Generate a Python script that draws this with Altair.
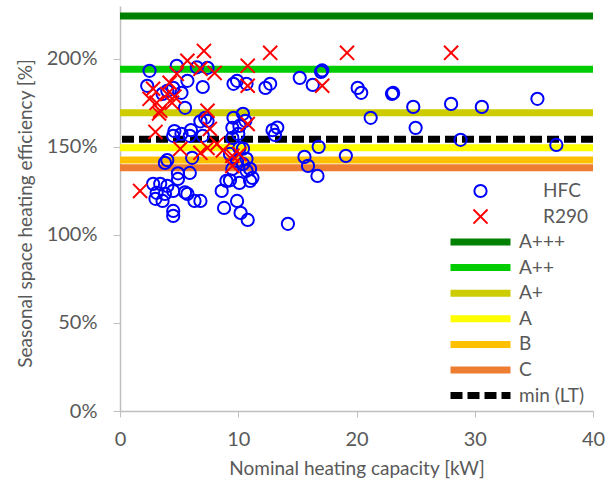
import altair as alt
import pandas as pd

# Heat pump models: nominal heating capacity [kW] and seasonal space heating efficiency [%]
hfc_kw = [2.5, 4.8, 6.5, 7.4, 2.3, 4.0, 4.5, 3.6, 5.2, 5.7, 5.5, 7.0, 7.2, 6.8,
          9.6, 9.9, 10.7, 12.3, 12.7, 15.2, 16.3, 17.0, 17.1, 20.1, 20.4, 23.0,
          23.1, 24.8, 28.0, 30.6, 35.3, 21.2, 25.0, 28.8, 36.9, 16.8, 19.1, 15.6,
          15.9, 16.7, 14.2, 12.9, 13.3, 13.1,
          9.6, 10.4, 10.6, 9.5, 10.1, 7.4, 4.6, 5.2, 5.9, 6.0, 4.5,
          3.8, 4.0, 6.1, 5.9, 4.9, 3.4, 3.1, 4.0, 3.8, 3.6, 4.5, 3.0, 5.7, 5.5,
          6.3, 4.5, 4.5, 2.8, 4.9, 7.0, 9.5, 10.0, 10.1, 10.4, 10.7, 9.9, 9.3,
          10.4, 9.5, 11.0, 10.7, 11.2, 11.0, 10.1, 9.0, 9.3, 8.6, 8.8, 9.9,
          10.2, 10.8, 6.8]
hfc_eff = [193.2, 196.0, 195.2, 194.9, 184.7, 181.8, 183.5, 180.1, 180.7, 187.5,
           172.2, 184.0, 166.5, 164.5,
           185.8, 187.5, 185.8, 183.5, 185.8, 189.2, 185.2, 192.6, 193.4, 183.5,
           180.7, 180.1, 180.6, 172.7, 174.4, 172.7, 177.3, 166.5, 160.8, 154.0,
           151.1, 150.0, 144.9, 144.3, 139.2, 133.5, 106.3, 159.5, 161.0, 156.8,
           166.5, 168.8, 164.8, 160.8, 161.9, 164.8, 159.0, 157.4, 156.3, 159.5,
           156.3,
           140.9, 142.5, 143.8, 135.2, 131.8, 129.0, 123.9, 127.8, 123.3, 119.3,
           125.0, 120.5, 123.3, 124.2, 119.3, 113.6, 110.8, 129.0, 135.0, 156.3,
           155.1, 157.4, 149.4, 149.0, 143.2, 142.0, 146.0, 140.3, 137.5, 137.5,
           136.4, 132.4, 130.7, 129.5, 130.7, 131.0, 125.0, 115.3, 119.3, 112.5,
           108.5, 119.3]

r290_kw = [7.1, 5.7, 6.8, 4.8, 4.2, 2.8, 2.5, 3.1, 3.4, 4.4, 4.0, 3.0, 12.7,
           10.8, 10.8, 8.0, 7.4, 10.8, 7.6, 19.2, 28.0, 17.1, 5.1, 6.8, 1.7,
           7.4, 8.2, 8.7, 9.5, 10.1, 9.5, 3.3, 4.6]
r290_eff = [204.5, 198.9, 194.3, 191.5, 186.4, 183.0, 177.3, 175.0, 170.5, 175.0,
            180.0, 158.5, 203.4, 196.0, 184.7, 192.0, 170.5, 163.0, 160.2, 203.4,
            203.4, 184.7, 148.9, 146.6, 125.0, 149.4, 151.7, 148.0, 144.9, 146.0,
            139.2, 169.0, 178.5]

# Energy label class thresholds and the minimum requirement (low temperature)
class_names = ["A+++", "A++", "A+", "A", "B", "C", "min (LT)"]
class_limits = [224.3, 194.1, 169.4, 149.5, 142.5, 138.1, 154.3]
class_colors = ["#008000", "#00CC00", "#CCCC00", "#FFFF00", "#FFC000", "#ED7D31", "#000000"]
class_widths = [7, 7, 7, 7, 7, 7, 4.5]
class_dashes = [[1, 0]] * 6 + [[12, 5]]

series_names = ["HFC", "R290"]
series_colors = ["#0000FF", "#FF0000"]

FONT = "Lato"
GREY = "#595959"
AXIS_GREY = "#BFBFBF"
X_SHAPE = "M-1.15,-1.15L1.15,1.15M1.15,-1.15L-1.15,1.15"

points = pd.DataFrame({
    "capacity": hfc_kw + r290_kw,
    "efficiency": hfc_eff + r290_eff,
    "refrigerant": ["HFC"] * len(hfc_kw) + ["R290"] * len(r290_kw),
})
limits = pd.DataFrame({"label": class_names, "efficiency": class_limits})

y_scale = alt.Scale(domain=[0, 230], nice=False)
y_axis = alt.Axis(
    values=[0, 50, 100, 150, 200], labelExpr="datum.value + '%'",
    title="Seasonal space heating efficiency [%]",
    titleX=-95, titleY=207, titleBaseline="middle",
    tickSize=7, labelPadding=16, labelFlush=False,
)
x_axis = alt.Axis(
    values=[0, 10, 20, 30, 40], title="Nominal heating capacity [kW]",
    titleY=57, titleBaseline="middle", tickSize=6, labelPadding=12,
    labelFlush=False,
)

common_legend = dict(
    title=None, orient="none", legendX=327, clipHeight=20, rowPadding=5.6,
    labelFont=FONT, labelFontSize=19, labelColor=GREY, padding=0,
)
line_legend = alt.Legend(
    legendY=226, symbolType="M-1,0H1", symbolSize=3600, labelOffset=5,
    **common_legend,
)
point_legend = alt.Legend(
    legendY=175, symbolSize=150, symbolStrokeWidth=2, symbolOffset=24,
    labelOffset=53, **common_legend,
)

lines = alt.Chart(limits).mark_rule().encode(
    y=alt.Y("efficiency:Q", scale=y_scale, axis=y_axis),
    color=alt.Color("label:N", scale=alt.Scale(domain=class_names, range=class_colors),
                    legend=line_legend),
    strokeDash=alt.StrokeDash("label:N", scale=alt.Scale(domain=class_names, range=class_dashes),
                              legend=line_legend),
    strokeWidth=alt.StrokeWidth("label:N", scale=alt.Scale(domain=class_names, range=class_widths),
                                legend=line_legend),
)

scatter = alt.Chart(points).mark_point(filled=False, size=150, strokeWidth=2, opacity=1).encode(
    x=alt.X("capacity:Q", scale=alt.Scale(domain=[0, 40], nice=False), axis=x_axis),
    y=alt.Y("efficiency:Q", scale=y_scale, axis=y_axis),
    color=alt.Color("refrigerant:N", scale=alt.Scale(domain=series_names, range=series_colors),
                    legend=point_legend),
    shape=alt.Shape("refrigerant:N", scale=alt.Scale(domain=series_names, range=["circle", X_SHAPE]),
                    legend=point_legend),
)

chart = (
    alt.layer(lines, scatter)
    .resolve_scale(color="independent", strokeDash="independent",
                   strokeWidth="independent", shape="independent")
    .properties(
        width=473, height=405,
        autosize=alt.AutoSizeParams(type="none"),
        padding={"left": 120, "top": 6, "right": 21, "bottom": 70},
        background="white",
    )
    .configure_view(strokeWidth=0)
    .configure_axis(
        grid=False, domainColor=AXIS_GREY, tickColor=AXIS_GREY, domainWidth=1.5,
        labelFont=FONT, labelFontSize=20, labelColor=GREY,
        titleFont=FONT, titleFontSize=19, titleColor=GREY, titleFontWeight="normal",
    )
)

chart.save("out.html", embed_options={"renderer": "svg", "actions": False})
